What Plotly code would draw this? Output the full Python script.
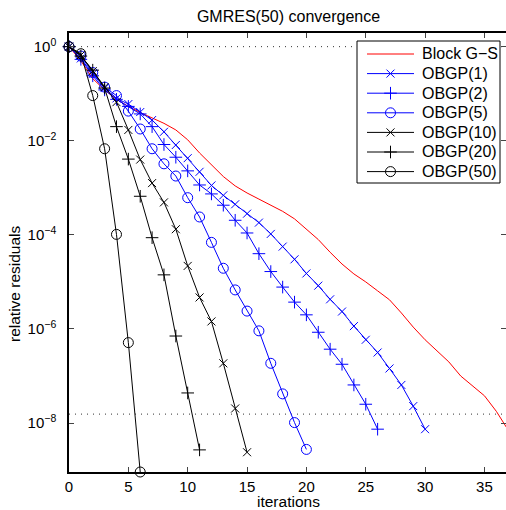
import plotly.graph_objects as go

# Data (log10 of relative residual, per iteration 0,1,2,...)
block_gs_log10 = [0, -0.30, -0.68, -0.92, -1.12, -1.27, -1.40, -1.52, -1.63, -1.77,
                  -1.98, -2.26, -2.51, -2.76, -2.96, -3.11, -3.24, -3.37, -3.50, -3.66,
                  -3.88, -4.10, -4.37, -4.62, -4.83, -5.00, -5.19, -5.38, -5.66, -5.96,
                  -6.23, -6.46, -6.70, -7.00, -7.22, -7.42, -7.75, -8.15]
obgp1_log10 = [0, -0.25, -0.58, -0.88, -1.10, -1.22, -1.39, -1.56, -1.81, -2.09,
               -2.37, -2.66, -2.95, -3.16, -3.35, -3.55, -3.74, -3.98, -4.25, -4.52,
               -4.82, -5.08, -5.37, -5.63, -5.94, -6.23, -6.50, -6.84, -7.19, -7.64, -8.13]
obgp2_log10 = [0, -0.27, -0.62, -0.92, -1.12, -1.27, -1.43, -1.70, -2.08, -2.35,
               -2.64, -2.94, -3.13, -3.37, -3.69, -3.96, -4.40, -4.78, -5.11, -5.43,
               -5.70, -6.07, -6.43, -6.75, -7.19, -7.60, -8.13]
obgp5_log10 = [0, -0.20, -0.55, -0.86, -1.04, -1.37, -1.75, -2.17, -2.49, -2.75,
               -3.21, -3.62, -4.16, -4.71, -5.17, -5.62, -6.04, -6.73, -7.38, -7.99, -8.56]
obgp10_log10 = [0, -0.18, -0.52, -0.86, -1.18, -1.77, -2.40, -2.90, -3.31, -3.88,
                -4.66, -5.33, -5.84, -6.73, -7.69, -8.62]
obgp20_log10 = [0, -0.20, -0.50, -0.88, -1.70, -2.39, -3.18, -4.06, -4.85, -6.15,
                -7.36, -8.57]
obgp50_log10 = [0, -0.15, -1.04, -2.17, -3.99, -6.29, -9.04]

tol_levels = [1.0, 1.55e-8]
x_ticks = [0, 5, 10, 15, 20, 25, 30, 35]
y_tickvals = [1e0, 1e-2, 1e-4, 1e-6, 1e-8]
y_ticktext = ["10<sup>0</sup>", "10<sup>\u22122</sup>", "10<sup>\u22124</sup>",
              "10<sup>\u22126</sup>", "10<sup>\u22128</sup>"]

FONT = "Liberation Sans, Arial, Helvetica, sans-serif"

def to_vals(logs):
    return [10 ** v for v in logs]

series = [
    ("Block G\u2212S", block_gs_log10, "#ff0000", None, 0),
    ("OBGP(1)", obgp1_log10, "#0000ff", "x-thin-open", 8),
    ("OBGP(2)", obgp2_log10, "#0000ff", "cross-thin-open", 9),
    ("OBGP(5)", obgp5_log10, "#0000ff", "circle-open", 10),
    ("OBGP(10)", obgp10_log10, "#000000", "x-thin-open", 8),
    ("OBGP(20)", obgp20_log10, "#000000", "cross-thin-open", 9),
    ("OBGP(50)", obgp50_log10, "#000000", "circle-open", 10),
]

W, H = 506, 510
L, R, T, B = 69, 0, 33, 38
PW, PH = W - L - R, H - T - B

def px(xp):
    return (xp - L) / PW

def py(yp):
    return (H - B - yp) / PH

fig = go.Figure()

shapes = []
# dotted reference levels
for lvl in tol_levels:
    shapes.append(dict(type="line", xref="paper", yref="y", x0=0, x1=1, y0=lvl, y1=lvl,
                       line=dict(color="#333333", width=1, dash="1px,5px"), layer="below"))

for name, logs, color, sym, size in series:
    xs = list(range(len(logs)))
    if sym is None:
        fig.add_trace(go.Scatter(x=xs, y=to_vals(logs), mode="lines", name=name,
                                 line=dict(color=color, width=1), showlegend=False))
    else:
        fig.add_trace(go.Scatter(
            x=xs, y=to_vals(logs), mode="lines+markers", name=name,
            line=dict(color=color, width=1),
            marker=dict(symbol=sym, size=size, color=color,
                        line=dict(color=color, width=1)),
            cliponaxis=False, showlegend=False))

# ---- legend box ----
leg_left, leg_top, leg_right, leg_bottom = 357, 41, 500, 183
leg_row0, leg_dy = 54, 19.6
line_x0, line_x1, text_x = 367, 414, 420

shapes.append(dict(type="rect", xref="paper", yref="paper", x0=px(leg_left), x1=px(leg_right),
                   y0=py(leg_top), y1=py(leg_bottom), line=dict(color="black", width=1),
                   fillcolor="white", layer="below"))
annotations = []
for i, (name, logs, color, sym, size) in enumerate(series):
    yy = leg_row0 + i * leg_dy
    shapes.append(dict(type="line", xref="paper", yref="paper", x0=px(line_x0), x1=px(line_x1),
                       y0=py(yy), y1=py(yy), line=dict(color=color, width=1), layer="above"))
    annotations.append(dict(x=px(text_x), y=py(yy), xref="paper", yref="paper", text=name,
                            showarrow=False, xanchor="left", yanchor="middle",
                            font=dict(family=FONT, size=16, color="black")))
    if sym is not None:
        fig.add_trace(go.Scatter(
            x=[(line_x0 + line_x1) / 2], y=[yy], xaxis="x2", yaxis="y2",
            mode="markers", showlegend=False, hoverinfo="skip", cliponaxis=False,
            marker=dict(symbol=sym, size=size, color=color,
                        line=dict(color=color, width=1))))

# axis titles
annotations.append(dict(x=px(288.5), y=py(502), xref="paper", yref="paper", text="iterations",
                        showarrow=False, xanchor="center", yanchor="middle",
                        font=dict(family=FONT, size=15.5, color="black")))
annotations.append(dict(x=px(14), y=py(283), xref="paper", yref="paper",
                        text="relative residuals", showarrow=False, xanchor="center",
                        yanchor="middle", textangle=-90,
                        font=dict(family=FONT, size=15.5, color="black")))

fig.update_layout(
    width=W, height=H,
    margin=dict(l=L, r=R, t=T, b=B, pad=0),
    paper_bgcolor="white", plot_bgcolor="white",
    font=dict(family=FONT, size=15, color="black"),
    title=dict(text="GMRES(50) convergence", x=288.5 / W, xanchor="center",
               y=1 - 16 / H, yanchor="middle", xref="container", yref="container",
               font=dict(family=FONT, size=16, color="black")),
    showlegend=False,
    shapes=shapes,
    annotations=annotations,
    xaxis=dict(range=[0, PW / 11.87], tickvals=x_ticks, ticks="inside",
               ticklen=5, showline=True, linecolor="black", linewidth=1.5,
               mirror="ticks", showgrid=False, zeroline=False, automargin=False,
               tickfont=dict(size=15)),
    yaxis=dict(type="log", range=[-9.04, 0.29], tickvals=y_tickvals,
               ticktext=y_ticktext, ticks="inside", ticklen=5, showline=True,
               linecolor="black", linewidth=1.5, mirror="ticks", showgrid=False,
               zeroline=False, automargin=False, tickfont=dict(size=15),
               ticklabelstandoff=8),
    xaxis2=dict(overlaying="x", range=[L, W - R], visible=False, fixedrange=True),
    yaxis2=dict(overlaying="y", range=[H - B, T], visible=False, fixedrange=True),
)

fig.write_html("out.html", config={"displayModeBar": False},
               post_script="document.body.style.margin='0';document.body.style.padding='0';")
